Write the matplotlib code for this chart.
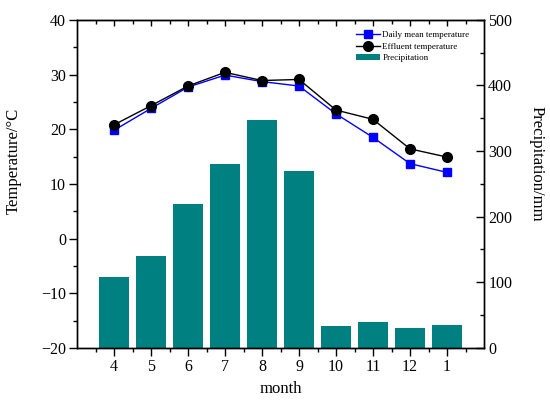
import matplotlib
matplotlib.use("Agg")
import matplotlib.pyplot as plt
import numpy as np
from matplotlib.ticker import MultipleLocator, FixedLocator

plt.rcParams['font.family'] = ['Liberation Serif', 'DejaVu Serif']
plt.rcParams['mathtext.fontset'] = 'stix'

months = ['4', '5', '6', '7', '8', '9', '10', '11', '12', '1']
daily_mean_temp = [19.8, 23.8, 27.7, 29.9, 28.7, 27.9, 22.8, 18.5, 13.7, 12.1]
effluent_temp = [20.8, 24.3, 27.9, 30.4, 28.9, 29.1, 23.5, 21.8, 16.4, 14.9]
precipitation = [108, 140, 219, 280, 348, 269, 34, 40, 30, 35]

fig = plt.figure(figsize=(5.5, 4.05), dpi=100)
ax = fig.add_axes([0.14, 0.141, 0.74, 0.81])
ax2 = ax.twinx()

x = np.arange(len(months))
bars = ax2.bar(x, precipitation, width=0.8, color='#008080', label='Precipitation')
l1, = ax.plot(x, daily_mean_temp, '-s', color='#0000FF', lw=1.0, ms=6, label='Daily mean temperature')
l2, = ax.plot(x, effluent_temp, '-o', color='black', lw=1.0, ms=7, label='Effluent temperature')

ax.set_zorder(ax2.get_zorder() + 1)
ax.patch.set_visible(False)

ax.set_xlim(-1, 10)
ax.set_ylim(-20, 40)
ax2.set_ylim(0, 500)
ax.set_xticks(x)
ax.set_xticklabels(months)
ax.xaxis.set_minor_locator(FixedLocator(np.arange(-0.5, 10, 1.0)))
ax.yaxis.set_major_locator(MultipleLocator(10))
ax.yaxis.set_minor_locator(MultipleLocator(5))
ax2.yaxis.set_major_locator(MultipleLocator(100))
ax2.yaxis.set_minor_locator(MultipleLocator(50))

ax.tick_params(axis='both', which='major', direction='out', length=6, width=1, labelsize=11.5, pad=2)
ax.tick_params(axis='both', which='minor', direction='out', length=3, width=1)
ax.tick_params(axis='y', right=False)
ax2.tick_params(axis='y', which='major', direction='in', length=6, width=1, labelsize=11.5, pad=3)
ax2.tick_params(axis='y', which='minor', direction='in', length=3, width=1)

top = ax.secondary_xaxis('top')
top.set_xticks(x)
top.xaxis.set_minor_locator(FixedLocator(np.arange(-0.5, 10, 1.0)))
top.tick_params(which='major', direction='in', length=4, width=1, labeltop=False)
top.tick_params(which='minor', direction='in', length=3, width=1)
top.set_xticklabels([])

for a in (ax, ax2):
    for s in a.spines.values():
        s.set_linewidth(1.0)

ax.set_xlabel('month', fontsize=12)
ax.set_ylabel('Temperature/°C', fontsize=12)
ax.yaxis.set_label_coords(-0.135, 0.57)
ax2.set_ylabel('Precipitation/mm', fontsize=12, rotation=270, va='center')
ax2.yaxis.set_label_coords(1.13, 0.561)

ax.legend(handles=[l1, l2, bars], loc='upper right', frameon=False, fontsize=6.5,
          handlelength=2.6, borderaxespad=0.3, labelspacing=0.35, handletextpad=0.3,
          bbox_to_anchor=(0.98, 0.985))

fig.savefig('out.png', dpi=100)
